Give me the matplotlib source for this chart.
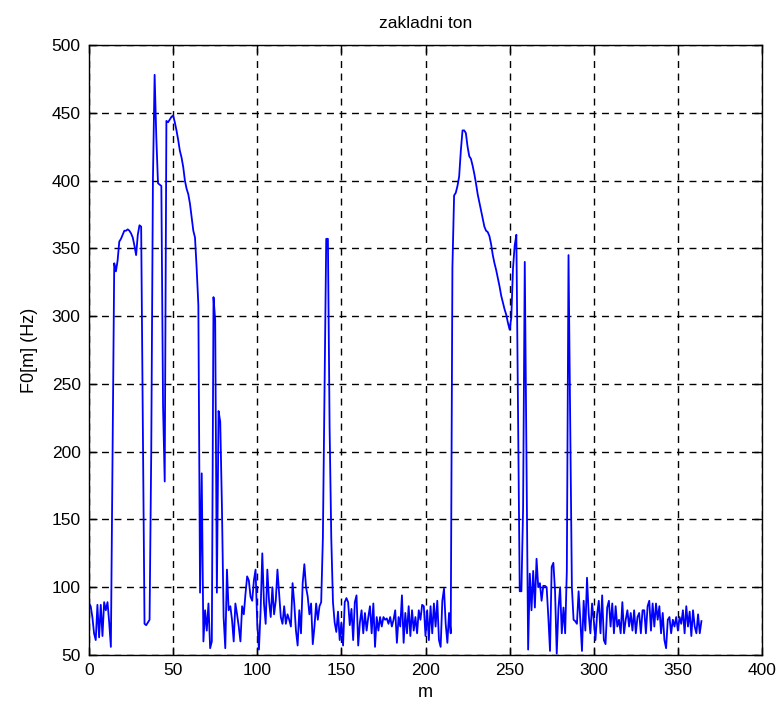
import numpy as np
import matplotlib
matplotlib.use("Agg")
import matplotlib.pyplot as plt

# F0 contour values (Hz), one per frame m = 0..364
f0_part1 = [88, 86, 78, 66, 61, 87, 63, 87, 64, 89, 83, 89, 74, 56,
            199, 339, 333, 341, 355, 357, 360, 363, 363, 364, 363, 361, 358, 352, 345, 360,
            367, 366, 221, 73, 72, 74, 76, 201, 401, 478, 432, 398, 397, 396, 234, 178,
            444, 443, 445, 447, 448, 443, 437, 430, 422, 417, 410, 400, 394, 390, 383, 373,
            363, 358, 335, 308, 96, 184, 60, 83, 68, 88, 55, 60, 314, 297, 96, 230, 222,
            160]
f0_part2 = [78, 55, 113, 83, 86, 76, 60, 88, 80, 71, 60, 86, 80, 95, 108, 105, 93, 90, 105,
            113, 73, 54, 83, 125, 88, 73, 113, 90, 78, 100, 80, 90, 113, 95, 78, 73, 86, 73,
            80, 76, 71, 103, 88, 68, 57, 83, 66, 103, 117, 100, 93, 80, 88, 58, 71, 88, 76,
            86,
            89, 136, 250, 357, 357, 218, 136, 89, 74, 67, 82, 61, 74, 57, 89, 92,
            89, 72, 84, 61, 89, 94, 57, 74]
f0_part3 = [83, 66, 81, 68, 78, 86, 66, 88, 56, 78, 68, 78, 71, 78, 76, 77, 73, 78, 71, 76,
            83, 59, 78, 71, 94, 59, 81, 66, 86, 64, 83, 68, 78, 66, 83, 76, 87, 86, 64, 83,
            61, 86, 66, 88, 71, 90, 61, 56, 90, 99, 73, 59, 81, 66]
f0_part4 = [336, 389, 391, 396, 403, 422, 437, 437, 435, 425, 418, 416, 411, 405, 398, 390,
            384, 378, 372, 366, 363, 362, 359, 353, 345, 339, 334, 328, 322, 315, 310, 305,
            301, 295, 290, 299, 335, 352, 360]
f0_part5 = [228, 97, 97, 158, 340, 196, 54, 110, 83, 112, 85, 121, 100, 103, 90, 101, 101,
            100, 78, 53, 115, 118, 97, 51, 84, 100, 66, 85, 66, 112, 345, 220, 100, 76, 75,
            73, 97, 76, 53, 90, 68, 107, 80, 66, 88, 76, 61, 80, 90, 66, 94, 61, 58, 85, 90,
            71, 88, 66, 86, 71, 76, 66, 89, 66, 76, 83, 71, 81, 68, 83, 66, 78, 81, 66, 83,
            83, 66, 86, 90, 68, 88, 71, 88, 76, 86, 66, 81, 61, 55, 76, 78, 66, 76, 71, 78]
f0_part6 = [68, 78, 73, 83, 66, 86, 71, 82, 64, 83, 71, 66, 80, 66, 75]

f0 = np.array(f0_part1 + f0_part2 + f0_part3 + f0_part4 + f0_part5 + f0_part6, dtype=float)
m = np.arange(len(f0))

x_ticks = [0, 50, 100, 150, 200, 250, 300, 350, 400]
y_ticks = [50, 100, 150, 200, 250, 300, 350, 400, 450, 500]

plt.rcParams['font.family'] = ['Liberation Sans', 'DejaVu Sans']

fig = plt.figure(figsize=(7.82, 7.2), dpi=100)
fig.patch.set_facecolor('white')
ax = fig.add_axes([89/782, 1 - 655/720, (762-89)/782, (655-45)/720])

ax.plot(m, f0, color=(0, 0, 1), linewidth=1.3)

ax.set_xlim(0, 400)
ax.set_ylim(50, 500)
ax.set_xticks(x_ticks)
ax.set_yticks(y_ticks)
ax.tick_params(direction='in', length=6, width=1, top=True, right=True,
               labelsize=12.5, colors='black', pad=6)
ax.grid(True, color='black', linestyle=(0, (5, 4)), linewidth=1.0)
for s in ax.spines.values():
    s.set_linewidth(1.0)
    s.set_color('black')

ax.set_title('zakladni ton', fontsize=12.5, pad=12)
ax.set_xlabel('m', fontsize=13)
ax.set_ylabel('F0[m] (Hz)', fontsize=13, labelpad=10)

fig.savefig('out.png', dpi=100)
